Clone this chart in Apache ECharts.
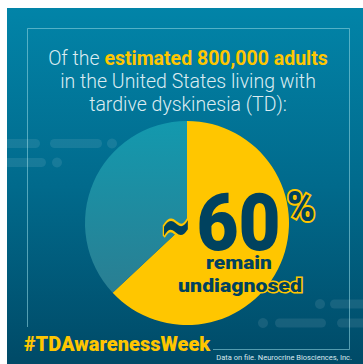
<!DOCTYPE html>
<html>
<head>
<meta charset="utf-8">
<script src="https://cdn.jsdelivr.net/npm/echarts@6/dist/echarts.min.js"></script>
<style>
  html, body { margin: 0; padding: 0; background: #fff; }
  #chart { width: 363px; height: 364px; }
</style>
</head>
<body>
<div id="chart"></div>
<script>
// share of adults with TD
const segNames = ['Undiagnosed', 'Diagnosed']
const segValues = [63, 37]
const segColors = ['#ffc600', '#1a8ea4']

const headLines = ['in the United States living with', 'tardive dyskinesia (TD):']
const bigText = '60'
const hashtag = '#TDAwarenessWeek'
const footnote = 'Data on file. Neurocrine Biosciences, Inc.'

const chart = echarts.init(document.getElementById('chart'), null, { renderer: 'svg' })

const dash = 'rgba(255,255,255,0.09)'
const navy = '#00425f'
const gold = '#ffc600'
function bar(x, y, w, h) {
  return { type: 'rect', shape: { x: x, y: y, width: w, height: h, r: h / 2 }, style: { fill: dash }, z: 1 }
}
// navy text with a yellow outline
function outlined(text, x, y, size, sx, sy, lw, font) {
  return {
    type: 'text', z: 100, x: x, y: y, scaleX: sx, scaleY: sy,
    style: {
      text: text, align: 'center', verticalAlign: 'middle',
      fontFamily: font || 'Roboto', fontWeight: 900, fontSize: size,
      fill: navy, stroke: gold, lineWidth: lw
    }
  }
}

chart.setOption({
  animation: false,
  graphic: [
    {
      type: 'rect', z: 0,
      shape: { x: 7, y: 8, width: 356, height: 356 },
      style: {
        fill: new echarts.graphic.LinearGradient(0, 0, 0, 1, [
          { offset: 0, color: '#0284a8' },
          { offset: 0.5, color: '#016a8c' },
          { offset: 1, color: '#004a67' }
        ])
      }
    },
    {
      type: 'polyline', z: 1,
      shape: { points: [[27.5, 327], [27.5, 28.5], [349.5, 28.5], [349.5, 349.5], [213, 349.5]] },
      style: { stroke: 'rgba(140,210,222,0.6)', lineWidth: 1, fill: null }
    },
    bar(0, 139, 40, 9), bar(50, 139, 52, 9),
    { type: 'circle', shape: { cx: 112, cy: 143.5, r: 5 }, style: { fill: dash }, z: 1 },
    bar(0, 158, 46, 9),
    { type: 'circle', shape: { cx: 57, cy: 162.5, r: 5 }, style: { fill: dash }, z: 1 },
    { type: 'circle', shape: { cx: 320, cy: 304, r: 5 }, style: { fill: dash }, z: 1 },
    bar(330, 299.5, 40, 9),
    { type: 'circle', shape: { cx: 263, cy: 323, r: 5 }, style: { fill: dash }, z: 1 },
    bar(275, 318.5, 51, 9), bar(337, 318.5, 40, 9),
    {
      type: 'text', z: 100, x: 188, y: 58,
      style: {
        text: '{a|Of the }{b|estimated 800,000 adults}',
        align: 'center', verticalAlign: 'middle',
        rich: {
          a: { fontFamily: 'Roboto', fontWeight: 300, fontSize: 19.5, fill: '#dcecf1' },
          b: { fontFamily: 'Roboto', fontWeight: 'bold', fontSize: 19.5, fill: gold }
        }
      }
    },
    {
      type: 'text', z: 100, x: 188, y: 81,
      style: { text: headLines[0], align: 'center', verticalAlign: 'middle', fontFamily: 'Roboto', fontWeight: 300, fontSize: 19.5, fill: '#dcecf1' }
    },
    {
      type: 'text', z: 100, x: 188, y: 104,
      style: { text: headLines[1], align: 'center', verticalAlign: 'middle', fontFamily: 'Roboto', fontWeight: 300, fontSize: 19.5, fill: '#dcecf1' }
    },
    outlined('~', 176, 225, 38, 1, 2, 2.5, 'DejaVu Sans'),
    outlined(bigText, 238.5, 223, 79, 0.92, 1, 4),
    outlined('%', 301, 207, 42, 0.9, 1, 4),
    outlined('remain', 239, 262, 19, 1.1, 1, 3),
    outlined('undiagnosed', 240, 285, 19, 1.12, 1, 3),
    {
      type: 'text', z: 100, x: 24, y: 344,
      style: { text: hashtag, align: 'left', verticalAlign: 'middle', fontFamily: 'Roboto', fontWeight: 900, fontSize: 20, fill: gold }
    },
    {
      type: 'text', z: 100, x: 352, y: 357,
      style: { text: footnote, align: 'right', verticalAlign: 'middle', fontFamily: 'Roboto', fontSize: 7.5, fill: '#d8e8ee' }
    }
  ],
  series: [{
    type: 'pie',
    center: [187, 223],
    radius: 102,
    startAngle: 90,
    clockwise: true,
    silent: true,
    label: { show: false },
    labelLine: { show: false },
    emphasis: { disabled: true },
    data: segNames.map((n, i) => ({
      name: n,
      value: segValues[i],
      itemStyle: {
        color: i === 1
          ? new echarts.graphic.LinearGradient(0, 0, 0, 1, [
              { offset: 0, color: '#1399ae' },
              { offset: 1, color: '#2a7e92' }
            ])
          : segColors[i]
      }
    }))
  }]
})
</script>
</body>
</html>
